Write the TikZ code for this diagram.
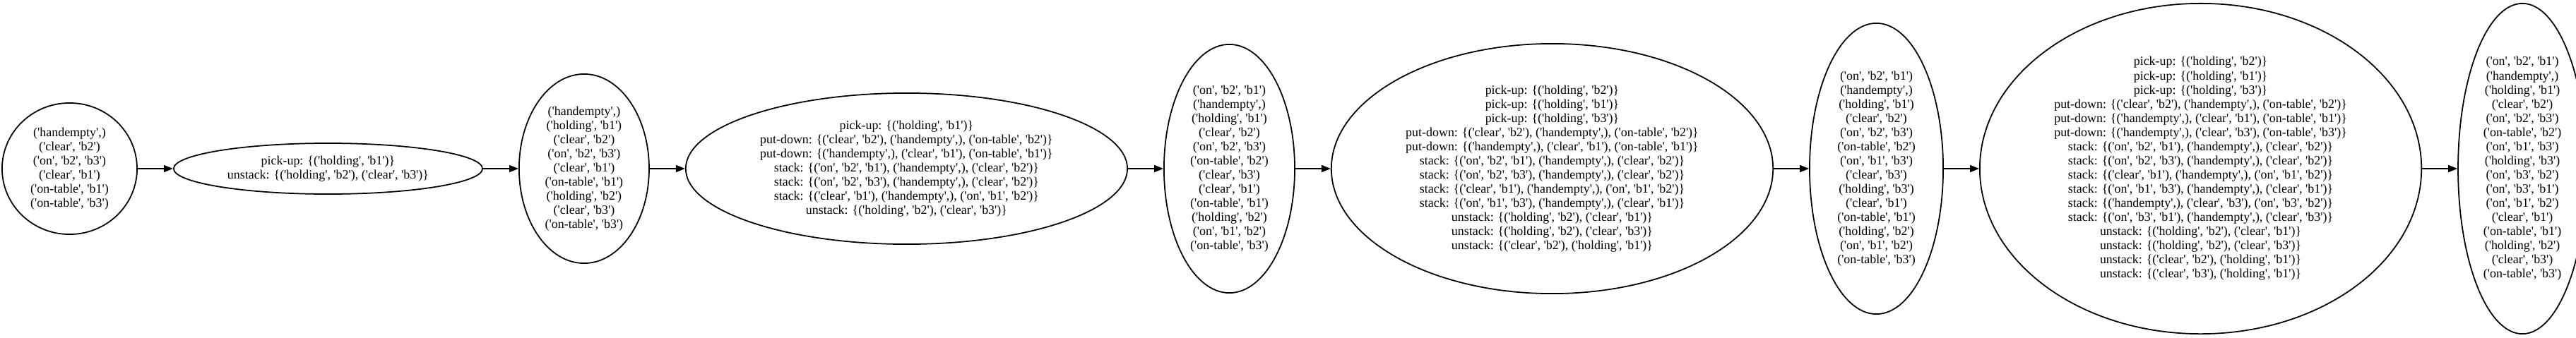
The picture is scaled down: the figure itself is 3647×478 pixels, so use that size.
\documentclass[tikz,border=0pt]{standalone}
\usepackage{fontspec}
\setmainfont{Liberation Serif}[Ligatures=TeXOff]
\usepackage{tikz}
\usetikzlibrary{positioning,shapes.geometric,arrows.meta}

\begin{document}
\begin{tikzpicture}[x=0.01cm, y=0.01cm,
    blob/.style={ellipse, draw, line width=0.5pt, inner sep=0pt, align=center,
      font=\fontsize{5.1}{5.7}\selectfont},
    fact/.style={blob},
    act/.style={blob, minimum width=6.25cm},
    edge/.style={-{Triangle[length=1.3mm,width=1mm]}, line width=0.5pt}]
  \useasboundingbox (0,-239) rectangle (3647,239);

  \node[fact, minimum width=1.91cm, minimum height=1.86cm] (s0) at (98.5,0)
    {('handempty',)\\('clear', 'b2')\\('on', 'b2', 'b3')\\('clear', 'b1')\\('on-table', 'b1')\\('on-table', 'b3')};
  \node[blob, right=0.5cm of s0, minimum width=4.37cm, minimum height=0.72cm] (a0)
    {pick-up: \{('holding', 'b1')\}\\unstack: \{('holding', 'b2'), ('clear', 'b3')\}};
  \node[fact, right=0.5cm of a0, minimum width=1.84cm, minimum height=2.68cm] (s1)
    {('handempty',)\\('holding', 'b1')\\('clear', 'b2')\\('on', 'b2', 'b3')\\('clear', 'b1')\\('on-table', 'b1')\\('holding', 'b2')\\('clear', 'b3')\\('on-table', 'b3')};
  \node[act, right=0.5cm of s1, minimum height=2.14cm] (a1)
    {pick-up: \{('holding', 'b1')\}\\
     put-down: \{('clear', 'b2'), ('handempty',), ('on-table', 'b2')\}\\
     put-down: \{('handempty',), ('clear', 'b1'), ('on-table', 'b1')\}\\
     stack: \{('on', 'b2', 'b1'), ('handempty',), ('clear', 'b2')\}\\
     stack: \{('on', 'b2', 'b3'), ('handempty',), ('clear', 'b2')\}\\
     stack: \{('clear', 'b1'), ('handempty',), ('on', 'b1', 'b2')\}\\
     unstack: \{('holding', 'b2'), ('clear', 'b3')\}};
  \node[fact, right=0.5cm of a1, minimum width=1.85cm, minimum height=3.52cm] (s2)
    {('on', 'b2', 'b1')\\('handempty',)\\('holding', 'b1')\\('clear', 'b2')\\('on', 'b2', 'b3')\\('on-table', 'b2')\\('clear', 'b3')\\('clear', 'b1')\\('on-table', 'b1')\\('holding', 'b2')\\('on', 'b1', 'b2')\\('on-table', 'b3')};
  \node[act, right=0.5cm of s2, minimum height=3.54cm] (a2)
    {pick-up: \{('holding', 'b2')\}\\
     pick-up: \{('holding', 'b1')\}\\
     pick-up: \{('holding', 'b3')\}\\
     put-down: \{('clear', 'b2'), ('handempty',), ('on-table', 'b2')\}\\
     put-down: \{('handempty',), ('clear', 'b1'), ('on-table', 'b1')\}\\
     stack: \{('on', 'b2', 'b1'), ('handempty',), ('clear', 'b2')\}\\
     stack: \{('on', 'b2', 'b3'), ('handempty',), ('clear', 'b2')\}\\
     stack: \{('clear', 'b1'), ('handempty',), ('on', 'b1', 'b2')\}\\
     stack: \{('on', 'b1', 'b3'), ('handempty',), ('clear', 'b1')\}\\
     unstack: \{('holding', 'b2'), ('clear', 'b1')\}\\
     unstack: \{('holding', 'b2'), ('clear', 'b3')\}\\
     unstack: \{('clear', 'b2'), ('holding', 'b1')\}};
  \node[fact, right=0.5cm of a2, minimum width=1.89cm, minimum height=4.12cm] (s3)
    {('on', 'b2', 'b1')\\('handempty',)\\('holding', 'b1')\\('clear', 'b2')\\('on', 'b2', 'b3')\\('on-table', 'b2')\\('on', 'b1', 'b3')\\('clear', 'b3')\\('holding', 'b3')\\('clear', 'b1')\\('on-table', 'b1')\\('holding', 'b2')\\('on', 'b1', 'b2')\\('on-table', 'b3')};
  \node[act, right=0.5cm of s3, minimum height=4.68cm] (a3)
    {pick-up: \{('holding', 'b2')\}\\
     pick-up: \{('holding', 'b1')\}\\
     pick-up: \{('holding', 'b3')\}\\
     put-down: \{('clear', 'b2'), ('handempty',), ('on-table', 'b2')\}\\
     put-down: \{('handempty',), ('clear', 'b1'), ('on-table', 'b1')\}\\
     put-down: \{('handempty',), ('clear', 'b3'), ('on-table', 'b3')\}\\
     stack: \{('on', 'b2', 'b1'), ('handempty',), ('clear', 'b2')\}\\
     stack: \{('on', 'b2', 'b3'), ('handempty',), ('clear', 'b2')\}\\
     stack: \{('clear', 'b1'), ('handempty',), ('on', 'b1', 'b2')\}\\
     stack: \{('on', 'b1', 'b3'), ('handempty',), ('clear', 'b1')\}\\
     stack: \{('handempty',), ('clear', 'b3'), ('on', 'b3', 'b2')\}\\
     stack: \{('on', 'b3', 'b1'), ('handempty',), ('clear', 'b3')\}\\
     unstack: \{('holding', 'b2'), ('clear', 'b1')\}\\
     unstack: \{('holding', 'b2'), ('clear', 'b3')\}\\
     unstack: \{('clear', 'b2'), ('holding', 'b1')\}\\
     unstack: \{('clear', 'b3'), ('holding', 'b1')\}};
  \node[fact, right=0.5cm of a3, minimum width=1.82cm, minimum height=4.68cm] (s4)
    {('on', 'b2', 'b1')\\('handempty',)\\('holding', 'b1')\\('clear', 'b2')\\('on', 'b2', 'b3')\\('on-table', 'b2')\\('on', 'b1', 'b3')\\('holding', 'b3')\\('on', 'b3', 'b2')\\('on', 'b3', 'b1')\\('on', 'b1', 'b2')\\('clear', 'b1')\\('on-table', 'b1')\\('holding', 'b2')\\('clear', 'b3')\\('on-table', 'b3')};

  \foreach \a/\b in {s0/a0, a0/s1, s1/a1, a1/s2, s2/a2, a2/s3, s3/a3, a3/s4}
    \draw[edge] (\a) -- (\b);
\end{tikzpicture}
\end{document}
